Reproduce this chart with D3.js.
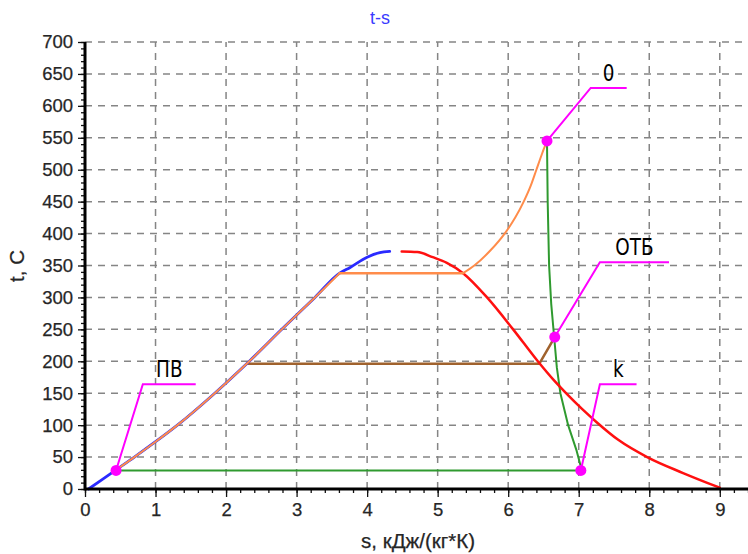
<!DOCTYPE html>
<html><head><meta charset="utf-8">
<script src="https://cdn.jsdelivr.net/npm/d3@7"></script>
<style>
html,body{margin:0;padding:0;background:#fff;}
svg{display:block;}
</style></head>
<body>
<svg id="chart" width="748" height="554"></svg>
<script>
// ---- data (s in kJ/(kg*K), t in °C) ----
const xTicks = [0,1,2,3,4,5,6,7,8,9];
const yTicks = [0,50,100,150,200,250,300,350,400,450,500,550,600,650,700];
const titleText = "t-s";
const xLabel = "s, кДж/(кг*К)";
const yLabel = "t, C";

// saturated liquid line (blue)
const liquidS = [0.05,0.44,0.70,1.00,1.31,1.84,2.00,2.33,2.79,3.26,3.61,3.76,4.00,4.18,4.32];
const liquidT = [0,   30,  50,  74,  100, 150, 166, 200, 250, 300, 338, 347, 363, 370, 372];
// saturated vapour line (red)
const vapourS = [4.49,4.71,4.93,5.13,5.36,5.70,6.07,6.42,6.65,6.82,7.05,7.25,7.56,7.97,8.48,9.00];
const vapourT = [372, 371, 363, 354, 338, 300, 250, 200, 170, 150, 125, 105, 77,  50,  25,  2];
// main cycle (orange): feed-water heating, evaporation, superheat to point 0
const heatS = [0.44,0.70,1.00,1.31,1.84,2.00,2.33,2.79,3.26,3.61];
const heatT = [30,  50,  74,  100, 150, 166, 200, 250, 300, 338];
const evapS = [3.61,5.36];
const evapT = [338, 338];
const superS = [5.36,5.52,5.76,5.95,6.10,6.22,6.32,6.40,6.48,6.55];
const superT = [338, 350, 375, 400, 425, 450, 475, 500, 525, 545];
// extraction (brown)
const extrS = [2.30,6.44,6.66];
const extrT = [196, 196, 238];
// expansion (green) and condensation (green)
const expS = [6.55,6.56,6.58,6.61,6.65,6.69,6.74,6.85,6.97,7.03,7.03];
const expT = [545, 450, 350, 290, 240, 190, 150, 100, 60,  35,  29];
const condS = [7.03,0.44];
const condT = [29,  29];

// callouts: point, elbow and end of the leader (data units)
const calloutNames = ["ПВ","0","ОТБ","k"];
const calloutS  = [0.44, 6.55, 6.66, 7.03];
const calloutT  = [29,   545,  238,  29];
const elbowS    = [0.82, 7.17, 7.30, 7.30];
const elbowT    = [164,  628,  355,  164];
const endS      = [1.57, 7.68, 8.28, 7.82];

// ---- drawing ----
const svg = d3.select("#chart");
const x = d3.scaleLinear().domain([0, 9.4]).range([85, 748]);
const y = d3.scaleLinear().domain([0, 700]).range([489, 42]);
const W = 748;
const FONT = "Arial, 'Liberation Sans', sans-serif";

const grid = svg.append("g");
grid.selectAll("line.h").data(yTicks.filter(v => v > 0)).join("line")
  .attr("x1", x(0)).attr("x2", W).attr("y1", d => y(d)).attr("y2", d => y(d))
  .attr("stroke", "#858585").attr("stroke-width", 1.5).attr("stroke-dasharray", "7,6");
grid.selectAll("line.v").data(xTicks.filter(v => v > 0)).join("line")
  .attr("y1", y(0)).attr("y2", y(700)).attr("x1", d => x(d)).attr("x2", d => x(d))
  .attr("stroke", "#858585").attr("stroke-width", 1.5).attr("stroke-dasharray", "7,6");

const zip = (a, b) => a.map((v, i) => [v, b[i]]);
const mkLine = c => d3.line().x(d => x(d[0])).y(d => y(d[1])).curve(c);

function drawLine(S, T, color, w, curve) {
  svg.append("path").datum(zip(S, T)).attr("d", mkLine(curve))
    .attr("fill", "none").attr("stroke", color).attr("stroke-width", w)
    .attr("stroke-linejoin", "round").attr("stroke-linecap", "round");
}
const ORANGE = "#ff8c4a", GREEN = "#2f9a2f";
drawLine(expS, expT, GREEN, 2, d3.curveLinear);
drawLine(condS, condT, GREEN, 2, d3.curveLinear);
drawLine(extrS, extrT, "#a0622d", 2.5, d3.curveLinear);
drawLine(vapourS, vapourT, "#ff1010", 2.5, d3.curveMonotoneX);
drawLine(liquidS, liquidT, "#2a2aff", 2.8, d3.curveMonotoneX);
drawLine(heatS, heatT, ORANGE, 2, d3.curveMonotoneX);
drawLine(evapS, evapT, ORANGE, 2.5, d3.curveLinear);
drawLine(superS, superT, ORANGE, 2, d3.curveMonotoneX);

// axes
const xAxis = d3.axisBottom(x).tickValues(xTicks).tickSize(8).tickPadding(6).tickFormat(d3.format("d"));
const yAxis = d3.axisLeft(y).tickValues(yTicks).tickSize(7).tickPadding(5).tickFormat(d3.format("d"));
const xMinor = d3.axisBottom(x).tickValues(d3.range(0, 9.41, 0.2)).tickSize(4).tickFormat("");
const yMinor = d3.axisLeft(y).tickValues(d3.range(0, 701, 10)).tickSize(4).tickFormat("");

const gxm = svg.append("g").attr("transform", `translate(0,${y(0)})`).call(xMinor);
const gym = svg.append("g").attr("transform", `translate(${x(0)},0)`).call(yMinor);
const gx = svg.append("g").attr("transform", `translate(0,${y(0)})`).call(xAxis);
const gy = svg.append("g").attr("transform", `translate(${x(0)},0)`).call(yAxis);
[gxm, gym, gx, gy].forEach(g => {
  g.select(".domain").remove();
  g.selectAll(".tick line").attr("stroke", "#111").attr("stroke-width", 1.3);
});
[gx, gy].forEach(g => g.selectAll(".tick text")
  .attr("font-family", FONT).attr("font-size", 18.5).attr("fill", "#262626")
  .attr("stroke", "#262626").attr("stroke-width", 0.25));
svg.append("line").attr("x1", x(0)).attr("x2", W).attr("y1", y(0)).attr("y2", y(0))
  .attr("stroke", "#000").attr("stroke-width", 3);
svg.append("line").attr("x1", x(0)).attr("x2", x(0)).attr("y1", y(0) + 1.5).attr("y2", y(700))
  .attr("stroke", "#000").attr("stroke-width", 3);

// titles
svg.append("text").attr("x", 380).attr("y", 24).attr("text-anchor", "middle")
  .attr("font-family", FONT).attr("font-size", 18)
  .attr("fill", "#3a3aff").text(titleText);
svg.append("text").attr("x", 418).attr("y", 548).attr("text-anchor", "middle")
  .attr("font-family", FONT).attr("font-size", 20.5)
  .attr("fill", "#262626").attr("stroke", "#262626").attr("stroke-width", 0.25).text(xLabel);
svg.append("text").attr("transform", "translate(24,266) rotate(-90)").attr("text-anchor", "middle")
  .attr("font-family", FONT).attr("font-size", 20.5)
  .attr("fill", "#262626").attr("stroke", "#262626").attr("stroke-width", 0.25).text(yLabel);

// callouts
const co = svg.append("g");
const leader = mkLine(d3.curveLinear);
calloutNames.forEach((name, i) => {
  const pts = [[calloutS[i], calloutT[i]], [elbowS[i], elbowT[i]], [endS[i], elbowT[i]]];
  co.append("path").datum(pts).attr("d", leader).attr("fill", "none")
    .attr("stroke", "#ff00ff").attr("stroke-width", 2);
  co.append("circle").attr("cx", x(calloutS[i])).attr("cy", y(calloutT[i])).attr("r", 5.5)
    .attr("fill", "#ff00ff");
  const cx = (x(elbowS[i]) + x(endS[i])) / 2, cy = y(elbowT[i]) - 7;
  co.append("text").attr("transform", `translate(${cx},${cy}) scale(0.8,1)`)
    .attr("text-anchor", "middle")
    .attr("font-family", "'DejaVu Sans', sans-serif")
    .attr("font-size", 23).attr("fill", "#000").text(name);
});
</script>
</body></html>
